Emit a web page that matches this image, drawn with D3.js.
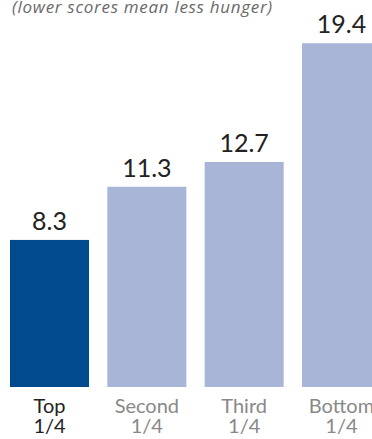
<!DOCTYPE html>
<html>
<head>
<meta charset="utf-8">
<script src="https://cdn.jsdelivr.net/npm/d3@7"></script>
<style>
  body { margin: 0; background: #fff; }
  svg { display: block; font-family: "Lato", "Open Sans", sans-serif; }
</style>
</head>
<body>
<script>
var w = 372;
var h = 439;

// quarters of households, top line and bottom line of each label
var categories = ["Top", "Second", "Third", "Bottom"];
var subLabels = ["1/4", "1/4", "1/4", "1/4"];
var values = [8.3, 11.3, 12.7, 19.4];
var note = "(lower scores mean less hunger)";

var svg = d3.select("body")
            .append("svg")
            .attr("width", w)
            .attr("height", h);

// bands: first bar starts at x=10, step about 97px, bars 79px wide
var xScale = d3.scaleBand()
               .domain(categories)
               .range([10, 381])
               .paddingInner(0.188)
               .paddingOuter(0);

// zero sits at the bar bottoms
var yScale = d3.scaleLinear()
               .domain([0, 20])
               .range([387, 32.6]);

// note at the top (italic, grey)
svg.append("text")
   .attr("x", 12)
   .attr("y", 13)
   .attr("font-family", "'Open Sans', sans-serif")
   .attr("font-size", 17)
   .attr("letter-spacing", 0.7)
   .attr("font-style", "italic")
   .attr("fill", "#6a6a6a")
   .text(note);

// bars
svg.selectAll("rect")
   .data(values)
   .enter()
   .append("rect")
   .attr("x", function (d, i) { return xScale(categories[i]); })
   .attr("y", function (d) { return yScale(d); })
   .attr("width", xScale.bandwidth())
   .attr("height", function (d) { return yScale(0) - yScale(d); })
   .style("fill", function (d, i) { return i === 0 ? "#004a8d" : "#a8b5d6"; });

// value labels over the bars
svg.selectAll(".vText")
   .data(values)
   .enter()
   .append("text")
   .attr("class", "vText")
   .attr("x", function (d, i) { return xScale(categories[i]) + xScale.bandwidth() / 2; })
   .attr("y", function (d) { return yScale(d) - 10; })
   .attr("text-anchor", "middle")
   .attr("font-size", 25)
   .attr("fill", "#222")
   .text(function (d) { return d.toFixed(1); });

// category labels under the bars, two lines each
var labels = svg.selectAll(".cText")
   .data(categories)
   .enter()
   .append("text")
   .attr("class", "cText")
   .attr("text-anchor", "middle")
   .attr("font-size", 20)
   .attr("fill", function (d, i) { return i === 0 ? "#222" : "#888"; });

labels.append("tspan")
   .attr("x", function (d) { return xScale(d) + xScale.bandwidth() / 2; })
   .attr("y", 413)
   .text(function (d) { return d; });

labels.append("tspan")
   .attr("x", function (d) { return xScale(d) + xScale.bandwidth() / 2; })
   .attr("y", 433)
   .text(function (d, i) { return subLabels[i]; });
</script>
</body>
</html>
